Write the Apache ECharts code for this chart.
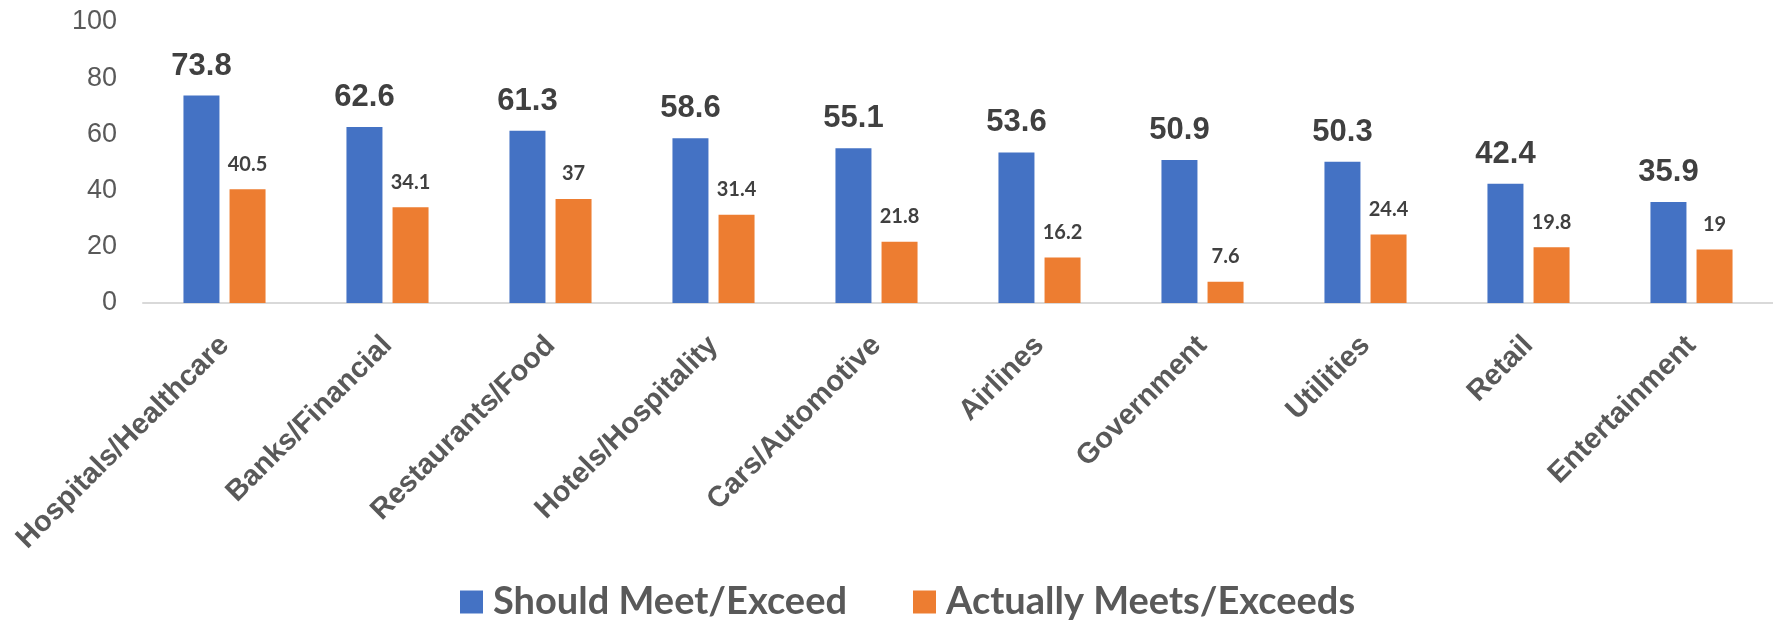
<!DOCTYPE html>
<html>
<head>
<meta charset="utf-8">
<style>
  html, body { margin: 0; padding: 0; background: #ffffff; }
  #chart { width: 1773px; height: 623px; }
</style>
<script src="https://cdn.jsdelivr.net/npm/echarts@6/dist/echarts.min.js"></script>
</head>
<body>
<div id="chart"></div>
<script>
// Industry categories along the x axis
const categories = [
  'Hospitals/Healthcare', 'Banks/Financial', 'Restaurants/Food', 'Hotels/Hospitality',
  'Cars/Automotive', 'Airlines', 'Government', 'Utilities', 'Retail', 'Entertainment'
];
// Share of respondents (%)
const shouldMeet = [73.8, 62.6, 61.3, 58.6, 55.1, 53.6, 50.9, 50.3, 42.4, 35.9];
const actuallyMeets = [40.5, 34.1, 37, 31.4, 21.8, 16.2, 7.6, 24.4, 19.8, 19];
const seriesNames = ['Should Meet/Exceed', 'Actually Meets/Exceeds'];
// Value axis range
const yMin = 0, yMax = 100, yStep = 20;

const chart = echarts.init(document.getElementById('chart'));
const sans = '"Liberation Sans", Arial, sans-serif';

chart.setOption({
  animation: false,
  backgroundColor: '#ffffff',
  grid: { left: 143, width: 1635, top: 22, bottom: 320, containLabel: false },
  legend: {
    data: seriesNames,
    left: 460,
    top: 583,
    padding: 0,
    icon: 'rect',
    itemWidth: 23,
    itemHeight: 23,
    itemGap: 66,
    textStyle: {
      fontFamily: 'Lato, sans-serif',
      fontWeight: 'bold',
      fontSize: 38,
      color: '#595959',
      padding: [0, 0, 0, 5]
    }
  },
  xAxis: {
    type: 'category',
    data: categories,
    axisTick: { show: false },
    axisLine: { lineStyle: { color: '#d9d9d9', width: 2 } },
    axisLabel: {
      interval: 0,
      rotate: 45,
      margin: 38,
      fontFamily: sans,
      fontWeight: 'bold',
      fontSize: 29,
      color: '#595959'
    }
  },
  yAxis: {
    type: 'value',
    min: yMin,
    max: yMax,
    interval: yStep,
    splitLine: { show: false },
    axisLine: { show: false },
    axisTick: { show: false },
    axisLabel: {
      margin: 26,
      fontFamily: sans,
      fontSize: 27,
      color: '#595959'
    }
  },
  series: [
    {
      name: seriesNames[0],
      type: 'bar',
      data: shouldMeet,
      barWidth: 36,
      barGap: '28%',
      itemStyle: { color: '#4472c4' },
      label: {
        show: true,
        position: 'top',
        distance: 14,
        fontFamily: sans,
        fontWeight: 'bold',
        fontSize: 31,
        color: '#404040'
      }
    },
    {
      name: seriesNames[1],
      type: 'bar',
      data: actuallyMeets,
      barWidth: 36,
      barGap: '28%',
      itemStyle: { color: '#ed7d31' },
      label: {
        show: true,
        position: 'top',
        distance: 15,
        fontFamily: 'Lato, sans-serif',
        fontWeight: 'bold',
        fontSize: 20,
        color: '#404040'
      }
    }
  ]
});
</script>
</body>
</html>
